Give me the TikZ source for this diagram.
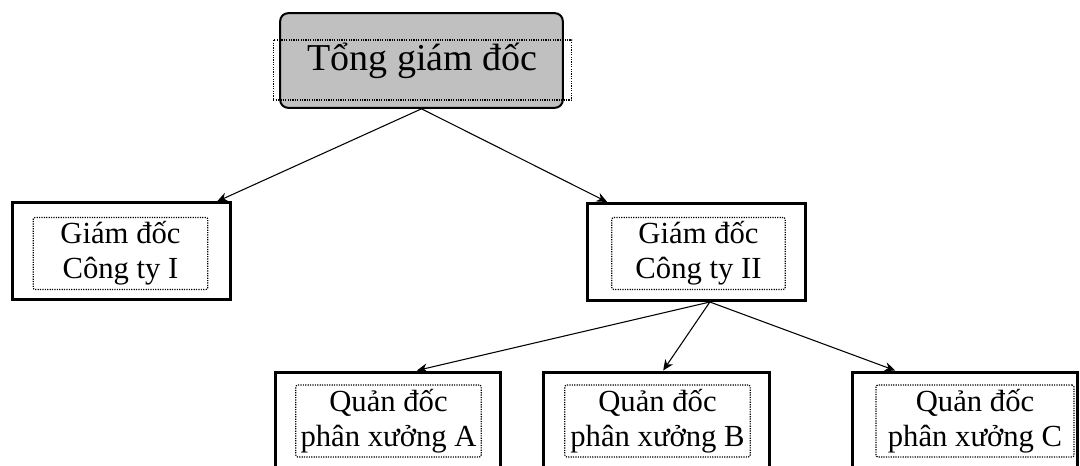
\documentclass[tikz,border=0pt]{standalone}
\usepackage{fontspec}
\setmainfont{Liberation Serif}
\usetikzlibrary{arrows.meta}
\definecolor{boxgray}{RGB}{192,192,192}

\begin{document}
\begin{tikzpicture}[x=0.75pt,y=-0.75pt,
	outer/.style={draw,line width=2.25pt,minimum width=163.5pt,minimum height=72.75pt,inner sep=0pt},
	dots/.style={draw,line width=0.9pt,dash pattern=on 0.9pt off 0.9pt},
	txt/.style={dots,rounded corners=1.5pt,align=center,font=\fontsize{23}{26}\selectfont,minimum height=54pt,inner sep=0pt},
	arr/.style={-{Stealth[length=8pt,width=7pt]},line width=0.8pt}]
	\useasboundingbox (0,0) rectangle (1080,466);
	\clip (0,0) rectangle (1080,466);

	\node[draw,fill=boxgray,line width=1.5pt,rounded corners=6pt,minimum width=212pt,minimum height=71pt] (tgd) at (421.5,60.5) {};
	\node[dots,minimum width=224pt,minimum height=45pt,inner sep=0pt,text height=9pt,text depth=7.5pt,font=\fontsize{28.5}{32}\selectfont] (tgdt) at (422.5,70) {Tổng giám đốc};

	\node[outer] (gd1) at (121,251.5) {};
	\node[txt,minimum width=131pt] (gd1t) at (120.5,253.5) {Giám đốc\\Công ty I};
	\node[outer] (gd2) at (696.5,252) {};
	\node[txt,minimum width=130pt] (gd2t) at (698.5,253.5) {Giám đốc\\Công ty II};

	\node[outer,minimum width=168.75pt] (qdA) at (387.5,420.5) {};
	\node[txt,minimum width=139pt] (qdAt) at (388.5,421) {Quản đốc\\phân xưởng A};
	\node[outer,minimum width=170pt] (qdB) at (656.5,420.5) {};
	\node[txt,minimum width=139pt] (qdBt) at (657.5,421) {Quản đốc\\phân xưởng B};
	\node[outer,minimum width=168.75pt] (qdC) at (964.5,420.5) {};
	\node[txt,minimum width=148.5pt] (qdCt) at (975,421) {Quản đốc\\phân xưởng C};

	\draw[arr] (tgd.south) -- ([xshift=72pt]gd1.north);
	\draw[arr] (tgd.south) -- ([xshift=-67pt]gd2.north);
	\draw[arr] ([xshift=10pt]gd2.south) -- ([xshift=22pt]qdA.north);
	\draw[arr] ([xshift=10pt]gd2.south) -- ([xshift=5pt]qdB.north);
	\draw[arr] ([xshift=10pt]gd2.south) -- ([xshift=-52pt]qdC.north);
\end{tikzpicture}
\end{document}
